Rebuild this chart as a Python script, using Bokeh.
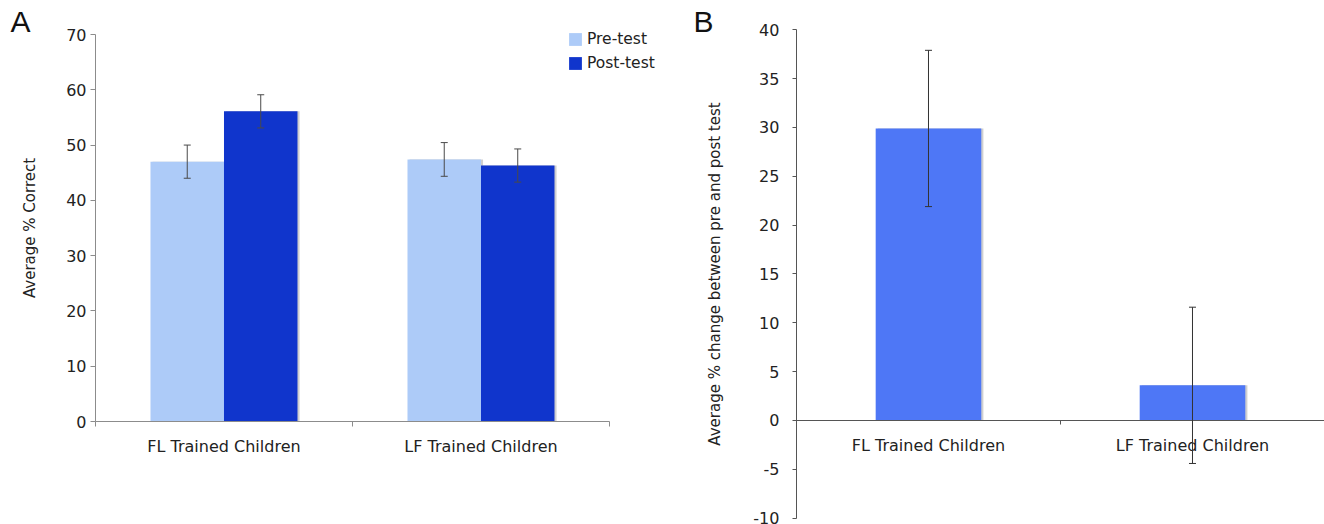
from bokeh.plotting import figure
from bokeh.models import (Range1d, FixedTicker, ColumnDataSource, Whisker, TeeHead,
                          Legend, LegendItem, Label)
from bokeh.layouts import row
from bokeh.embed import file_html
from bokeh.resources import INLINE

# ---- data ----
categories = ["FL Trained Children", "LF Trained Children"]
pre_test = [47.0, 47.4]
pre_err = [3.0, 3.05]
post_test = [56.1, 46.3]
post_err = [3.0, 3.0]
change = [29.9, 3.6]
change_err = [8.0, 8.0]
ticks_a = [0, 10, 20, 30, 40, 50, 60, 70]
ticks_b = [-10, -5, 0, 5, 10, 15, 20, 25, 30, 35, 40]

FONT = "DejaVu Sans"
PRE_C = "#adcbf8"
POST_C = "#1035cc"
B_C = "#4e77f6"
SHADOW = "#cfcfcf"

centers = [i + 0.5 for i in range(len(categories))]
bounds_x = (0, len(categories))
bw_a = 0.286
bw_b = 0.40

# ================= Panel A =================
# frame fills the figure; axes are pinned inside it at the data origin
pA = figure(width=688, height=524, output_backend="svg", toolbar_location=None,
            x_range=Range1d(-0.3696, 2.3074), y_range=Range1d(-18.63, 76.15),
            min_border_left=0, min_border_right=0, min_border_top=0, min_border_bottom=0)
pA.outline_line_color = None
pA.grid.grid_line_color = None

src_a = ColumnDataSource(dict(
    x_pre=[c - bw_a / 2 for c in centers],
    x_post=[c + bw_a / 2 for c in centers],
    xs_pre=[c - bw_a / 2 + 0.008 for c in centers],
    xs_post=[c + bw_a / 2 + 0.008 for c in centers],
    pre=pre_test, post=post_test,
    pre_up=[v + e for v, e in zip(pre_test, pre_err)],
    pre_lo=[v - e for v, e in zip(pre_test, pre_err)],
    post_up=[v + e for v, e in zip(post_test, post_err)],
    post_lo=[v - e for v, e in zip(post_test, post_err)],
))
pA.vbar(x="xs_pre", top="pre", width=bw_a, source=src_a, fill_color=SHADOW, line_color=None)
pA.vbar(x="xs_post", top="post", width=bw_a, source=src_a, fill_color=SHADOW, line_color=None)
r_pre = pA.vbar(x="x_pre", top="pre", width=bw_a, source=src_a, fill_color=PRE_C, line_color=None)
r_post = pA.vbar(x="x_post", top="post", width=bw_a, source=src_a, fill_color=POST_C, line_color=None)

for b, u, l in (("x_pre", "pre_up", "pre_lo"), ("x_post", "post_up", "post_lo")):
    w = Whisker(base=b, upper=u, lower=l, source=src_a, line_color="#4a4a4a", line_width=1,
                level="annotation",
                upper_head=TeeHead(size=7, line_color="#4a4a4a", line_width=1),
                lower_head=TeeHead(size=7, line_color="#4a4a4a", line_width=1))
    pA.add_layout(w)

ya = pA.yaxis[0]
ya.fixed_location = 0
ya.bounds = (ticks_a[0], ticks_a[-1])
ya.ticker = FixedTicker(ticks=ticks_a, minor_ticks=[])
ya.axis_label = "Average % Correct"
ya.axis_label_text_font = FONT
ya.axis_label_text_font_size = "15px"
ya.axis_label_text_font_style = "normal"
ya.axis_label_text_color = "#222222"
ya.axis_label_standoff = 24
ya.major_label_text_font = FONT
ya.major_label_text_font_size = "16px"
ya.major_label_text_color = "#222222"
ya.major_label_standoff = 4
ya.major_tick_out = 5
ya.major_tick_in = 0
ya.minor_tick_line_color = None
ya.axis_line_color = "#8c8c8c"
ya.major_tick_line_color = "#8c8c8c"

xa = pA.xaxis[0]
xa.fixed_location = 0
xa.bounds = bounds_x
xa.ticker = FixedTicker(ticks=centers, minor_ticks=[0, 1, 2])
xa.major_label_overrides = {c: n for c, n in zip(centers, categories)}
xa.major_label_text_font = FONT
xa.major_label_text_font_size = "16px"
xa.major_label_text_color = "#222222"
xa.major_label_standoff = 10
xa.major_tick_out = 0
xa.major_tick_in = 0
xa.minor_tick_out = 5
xa.minor_tick_in = 0
xa.axis_line_color = "#8c8c8c"
xa.minor_tick_line_color = "#8c8c8c"

legend = Legend(items=[LegendItem(label="Pre-test", renderers=[r_pre]),
                       LegendItem(label="Post-test", renderers=[r_post])],
                location=(567, 452), orientation="vertical",
                glyph_width=16, glyph_height=16, label_height=18, spacing=6,
                label_standoff=4, padding=0, margin=0,
                label_text_font=FONT, label_text_font_size="15.5px", label_text_color="#222222",
                border_line_color=None, background_fill_alpha=0)
pA.add_layout(legend)

pA.add_layout(Label(x=10, y=487, x_units="screen", y_units="screen", text="A",
                    text_font="Liberation Sans", text_font_size="30px", text_color="#111111"))

# ================= Panel B =================
pB = figure(width=636, height=524, output_backend="svg", toolbar_location=None,
            x_range=Range1d(-0.409, 2.0), y_range=Range1d(-10.648, 43.0),
            min_border_left=0, min_border_right=0, min_border_top=0, min_border_bottom=0)
pB.outline_line_color = None
pB.grid.grid_line_color = None

src_b = ColumnDataSource(dict(
    x=centers, xs=[c + 0.008 for c in centers], change=change,
    up=[v + e for v, e in zip(change, change_err)],
    lo=[v - e for v, e in zip(change, change_err)],
))
pB.vbar(x="xs", top="change", width=bw_b, source=src_b, fill_color=SHADOW, line_color=None)
pB.vbar(x="x", top="change", width=bw_b, source=src_b, fill_color=B_C, line_color=None)
pB.add_layout(Whisker(base="x", upper="up", lower="lo", source=src_b, line_color="#333333",
                      line_width=1, level="annotation",
                      upper_head=TeeHead(size=7, line_color="#333333", line_width=1),
                      lower_head=TeeHead(size=7, line_color="#333333", line_width=1)))

yb = pB.yaxis[0]
yb.fixed_location = 0
yb.bounds = (ticks_b[0], ticks_b[-1])
yb.ticker = FixedTicker(ticks=ticks_b, minor_ticks=[])
yb.major_label_overrides = {t: str(t) for t in ticks_b}
yb.axis_label = "Average % change between pre and post test"
yb.axis_label_text_font = FONT
yb.axis_label_text_font_size = "15px"
yb.axis_label_text_font_style = "normal"
yb.axis_label_text_color = "#222222"
yb.axis_label_standoff = 26
yb.major_label_text_font = FONT
yb.major_label_text_font_size = "16px"
yb.major_label_text_color = "#222222"
yb.major_label_standoff = 13
yb.major_tick_out = 4
yb.major_tick_in = 0
yb.minor_tick_line_color = None
yb.axis_line_color = "#555555"
yb.major_tick_line_color = "#555555"

xb = pB.xaxis[0]
xb.fixed_location = 0
xb.bounds = bounds_x
xb.ticker = FixedTicker(ticks=centers, minor_ticks=[0, 1, 2])
xb.major_label_overrides = {c: n for c, n in zip(centers, categories)}
xb.major_label_text_font = FONT
xb.major_label_text_font_size = "16px"
xb.major_label_text_color = "#222222"
xb.major_label_standoff = 12
xb.major_tick_out = 0
xb.major_tick_in = 0
xb.minor_tick_out = 4
xb.minor_tick_in = 0
xb.axis_line_color = "#555555"
xb.minor_tick_line_color = "#555555"

pB.add_layout(Label(x=5, y=487, x_units="screen", y_units="screen", text="B",
                    text_font="Liberation Sans", text_font_size="30px", text_color="#111111"))

layout = row(pA, pB)
open("out.html", "w").write(file_html(layout, INLINE))
